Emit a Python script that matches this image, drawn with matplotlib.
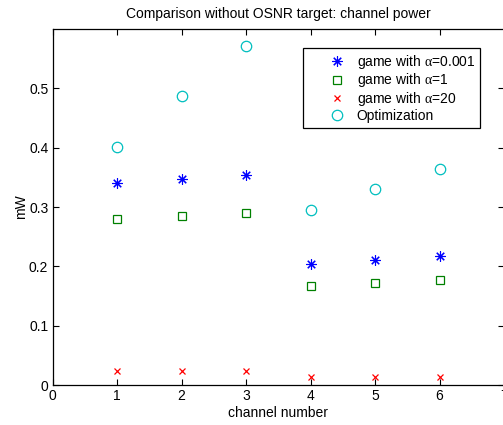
import numpy as np
import matplotlib.pyplot as plt

plt.rcParams['font.family'] = ['Liberation Sans', 'DejaVu Sans']
plt.rcParams['mathtext.fontset'] = 'custom'
plt.rcParams['mathtext.rm'] = 'Liberation Serif'
plt.rcParams['mathtext.it'] = 'Liberation Serif'

channels = np.array([1, 2, 3, 4, 5, 6])
game_a0001 = np.array([0.340, 0.347, 0.354, 0.204, 0.210, 0.217])
game_a1 = np.array([0.279, 0.285, 0.290, 0.167, 0.172, 0.177])
game_a20 = np.array([0.024, 0.024, 0.024, 0.013, 0.013, 0.013])
optimization = np.array([0.402, 0.487, 0.572, 0.295, 0.330, 0.364])

fig = plt.figure(figsize=(5.03, 4.25), dpi=100)
ax = fig.add_axes([0.1044, 0.0941, 0.8976, 0.8376])

ax.plot(channels, game_a0001, linestyle='none', marker=(8, 2, 0), markersize=7.5,
        markeredgewidth=0.8, color=(0, 0, 1), label=r'game with $\alpha$=0.001')
ax.plot(channels, game_a1, linestyle='none', marker='s', markersize=6,
        markeredgewidth=0.9, markerfacecolor='none', color=(0, 0.5, 0),
        label=r'game with $\alpha$=1')
ax.plot(channels, game_a20, linestyle='none', marker='x', markersize=5,
        markeredgewidth=0.9, color=(1, 0, 0), label=r'game with $\alpha$=20')
ax.plot(channels, optimization, linestyle='none', marker='o', markersize=7.5,
        markeredgewidth=0.9, markerfacecolor='none', color=(0, 0.75, 0.75),
        label='Optimization')

ax.set_xlim(0, 7)
ax.set_ylim(0, 0.6)
ax.set_xticks(np.arange(0, 8))
ax.set_yticks([0, 0.1, 0.2, 0.3, 0.4, 0.5])
ax.set_yticklabels(['0', '0.1', '0.2', '0.3', '0.4', '0.5'])
ax.tick_params(direction='in', top=True, right=True, length=4, width=0.8,
               labelsize=10, pad=3)
for s in ax.spines.values():
    s.set_linewidth(0.9)

ax.set_xlabel('channel number', fontsize=10, labelpad=2)
ax.set_ylabel('mW', fontsize=10, labelpad=1)
ax.set_title('Comparison without OSNR target: channel power', fontsize=10, pad=8)

leg = ax.legend(loc='upper right', bbox_to_anchor=(0.947, 0.947), fontsize=10,
                fancybox=False, framealpha=1, edgecolor='black',
                borderpad=0.35, labelspacing=0.05, handletextpad=-0.68,
                handlelength=4.2, borderaxespad=0)
leg.get_frame().set_linewidth(0.9)

fig.savefig('out.png', dpi=100)
